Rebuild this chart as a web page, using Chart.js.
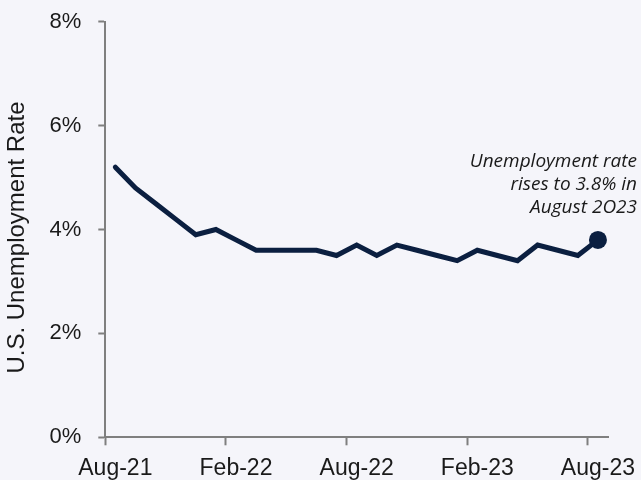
<!DOCTYPE html>
<html>
<head>
<meta charset="utf-8">
<script src="https://cdn.jsdelivr.net/npm/chart.js@4.4.0/dist/chart.umd.min.js"></script>
<style>
  html, body { margin: 0; padding: 0; background: #f5f5fa; }
  #wrap { width: 641px; height: 480px; position: relative; }
</style>
</head>
<body>
<div id="wrap"><canvas id="chart"></canvas></div>
<script>
const months = [
  'Aug-21', 'Sep-21', 'Oct-21', 'Nov-21', 'Dec-21',
  'Jan-22', 'Feb-22', 'Mar-22', 'Apr-22', 'May-22', 'Jun-22', 'Jul-22',
  'Aug-22', 'Sep-22', 'Oct-22', 'Nov-22', 'Dec-22',
  'Jan-23', 'Feb-23', 'Mar-23', 'Apr-23', 'May-23', 'Jun-23', 'Jul-23', 'Aug-23'
];
const rates = [
  5.2, 4.8, 4.5, 4.2, 3.9,
  4.0, 3.8, 3.6, 3.6, 3.6, 3.6, 3.5,
  3.7, 3.5, 3.7, 3.6, 3.5,
  3.4, 3.6, 3.5, 3.4, 3.7, 3.6, 3.5, 3.8
];
const yTicks = [0, 2, 4, 6, 8];
const yTitle = 'U.S. Unemployment Rate';
const noteLines = ['Unemployment rate', 'rises to 3.8% in', 'August 2O23'];

const navy = '#0b1f40';
const axisGrey = '#7f7f7f';
const textColor = '#1a1a1a';
const sans = '"Liberation Sans", Arial, sans-serif';

// y title (sits a little below the plot centre) and the italic note near the last point
const textPlugin = {
  id: 'texts',
  afterDraw(chart) {
    const ctx = chart.ctx;
    const area = chart.chartArea;
    ctx.save();
    ctx.fillStyle = textColor;

    ctx.save();
    ctx.translate(17, (area.top + area.bottom) / 2 + 8);
    ctx.rotate(-Math.PI / 2);
    ctx.font = '24px ' + sans;
    ctx.textAlign = 'center';
    ctx.textBaseline = 'middle';
    ctx.fillText(yTitle, 0, 0);
    ctx.restore();

    ctx.font = 'italic 19px "Open Sans", "Liberation Sans", sans-serif';
    ctx.textAlign = 'right';
    ctx.textBaseline = 'alphabetic';
    noteLines.forEach((t, i) => ctx.fillText(t, chart.width - 4, 167 + i * 23));
    ctx.restore();
  }
};

const config = {
  type: 'line',
  data: {
    labels: months,
    datasets: [{
      data: rates,
      borderColor: navy,
      backgroundColor: navy,
      borderWidth: 5,
      borderCapStyle: 'round',
      tension: 0,
      pointRadius: ctx => ctx.dataIndex === rates.length - 1 ? 9 : 0,
      pointHoverRadius: ctx => ctx.dataIndex === rates.length - 1 ? 9 : 0,
      pointBackgroundColor: navy,
      pointBorderWidth: 0,
    }],
  },
  options: {
    responsive: true,
    maintainAspectRatio: false,
    animation: false,
    layout: { padding: { top: 21.7, right: 33, bottom: 0, left: 0 } },
    plugins: {
      legend: { display: false },
      tooltip: { enabled: false },
    },
    scales: {
      x: {
        type: 'category',
        offset: true,
        grid: {
          offset: true,
          drawOnChartArea: false,
          tickLength: 8,
          tickWidth: 2,
          tickColor: ctx => ctx.index !== undefined && ctx.index % 6 === 0 ? axisGrey : 'rgba(0,0,0,0)',
        },
        border: { color: axisGrey, width: 2 },
        ticks: {
          autoSkip: false,
          maxRotation: 0,
          padding: 10,
          color: textColor,
          font: { family: sans, size: 23 },
          callback: (v, i) => i % 6 === 0 ? months[i] : '',
        },
        afterFit: s => {
          s.height = 42.7;
          s.paddingLeft = 0;
          s.paddingRight = 0;
        },
      },
      y: {
        min: 0,
        max: 8,
        afterBuildTicks: s => { s.ticks = yTicks.map(v => ({ value: v })); },
        grid: {
          drawOnChartArea: false,
          tickLength: 7,
          tickWidth: 2,
          tickColor: axisGrey,
        },
        border: { color: axisGrey, width: 2 },
        ticks: {
          padding: 17,
          color: textColor,
          font: { family: sans, size: 22 },
          callback: v => v + '%',
        },
        afterFit: s => {
          s.width = 105.3;
          s.paddingTop = 0;
          s.paddingBottom = 0;
        },
      },
    },
  },
  plugins: [textPlugin],
};

new Chart(document.getElementById('chart'), config);
</script>
</body>
</html>
